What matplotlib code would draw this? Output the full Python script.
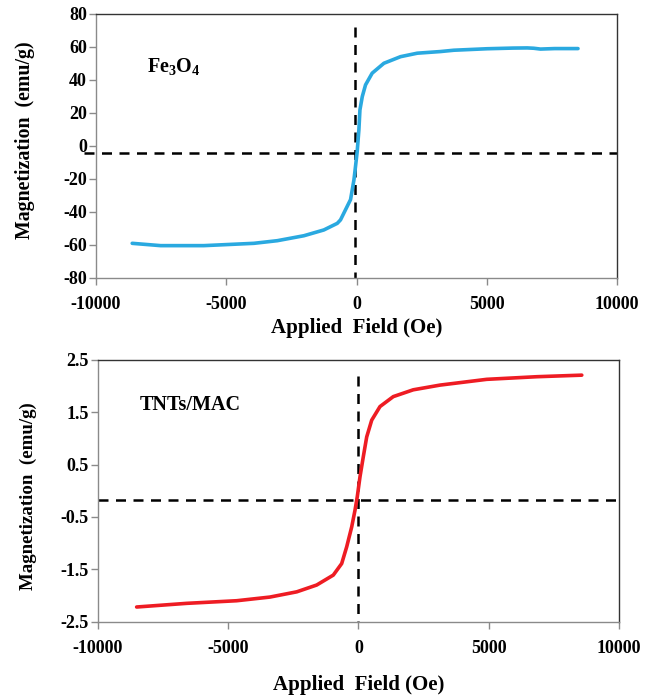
import matplotlib
matplotlib.use("Agg")
import matplotlib.pyplot as plt

plt.rcParams['font.family'] = ['Liberation Serif', 'DejaVu Serif']
plt.rcParams['font.weight'] = 'bold'
plt.rcParams['mathtext.fontset'] = 'custom'
plt.rcParams['mathtext.rm'] = 'Liberation Serif:bold'
plt.rcParams['mathtext.it'] = 'Liberation Serif:bold'
plt.rcParams['mathtext.bf'] = 'Liberation Serif:bold'
plt.rcParams['mathtext.default'] = 'rm'

# Fe3O4 magnetization curve (field in Oe, magnetization in emu/g)
fe_field = [-8610, -7520, -5860, -3940, -3040, -2020, -1255, -740, -615, -490, -230,
            -100, -40, 25, 90, 130, 220, 345, 600, 1050, 1690, 2330, 3220, 3735,
            5015, 6000, 6550, 6800, 7060, 7600, 8500]
fe_mag = [-59.0, -60.4, -60.4, -59.0, -57.4, -54.4, -50.9, -46.9, -44.8, -40.8, -32.5,
          -20.6, -12.5, -3.4, 9.7, 21.8, 29.9, 37.0, 44.1, 50.1, 54.1, 56.2, 57.2, 58.0,
          58.9, 59.3, 59.4, 59.2, 58.7, 59.0, 59.0]

# TNTs/MAC magnetization curve
tn_field = [-8515, -6595, -4675, -3400, -2370, -1605, -967, -645, -453, -261, -134, -46,
            58, 184, 315, 507, 825, 1335, 2100, 3130, 4920, 6840, 8570]
tn_mag = [-2.22, -2.15, -2.10, -2.03, -1.93, -1.80, -1.61, -1.39, -1.07, -0.69, -0.37, -0.11,
          0.27, 0.65, 1.03, 1.35, 1.61, 1.80, 1.93, 2.02, 2.13, 2.18, 2.21]

x_ticks = [-10000, -5000, 0, 5000, 10000]
fe_yticks = [-80, -60, -40, -20, 0, 20, 40, 60, 80]
tn_yticks = [-2.5, -1.5, -0.5, 0.5, 1.5, 2.5]

fig = plt.figure(figsize=(6.53, 6.96), dpi=100)
ax1 = fig.add_axes([0.147, 0.6006, 0.798, 0.3794])
ax2 = fig.add_axes([0.150, 0.1068, 0.798, 0.3760])

def style(ax, xlab_y, ylab_x, ylab_y, ylab_size):
    for s in ['left', 'bottom']:
        ax.spines[s].set_color('#8a8a8a')
        ax.spines[s].set_linewidth(1.0)
    for s in ['top', 'right']:
        ax.spines[s].set_color('#333333')
        ax.spines[s].set_linewidth(1.0)
    ax.tick_params(direction='out', length=5, width=1, color='#8a8a8a', labelsize=13)
    ax.tick_params(axis='x', pad=8)
    ax.tick_params(axis='y', pad=1.5)
    for lab in ax.get_xticklabels() + ax.get_yticklabels():
        lab.set_fontweight('bold')
    ax.set_xlabel('Applied  Field (Oe)', fontsize=15, fontweight='bold')
    ax.set_ylabel('Magnetization  (emu/g)', fontsize=ylab_size, fontweight='bold')
    ax.xaxis.set_label_coords(0.5, xlab_y)
    ax.yaxis.set_label_coords(ylab_x, ylab_y)

dash = (0, (4, 3))

# Top panel
ax1.plot(fe_field, fe_mag, color='#2aa9e0', lw=2.6, solid_capstyle='round',
         solid_joinstyle='round', zorder=3)
ax1.plot([-10450, 10000], [-4, -4], color='black', lw=1.8, linestyle=dash, clip_on=False, zorder=2)
ax1.plot([-40, -40], [72, -80], color='black', lw=1.8, linestyle=dash, zorder=2)
ax1.set_xlim(-10000, 10000)
ax1.set_ylim(-80, 80)
ax1.set_xticks(x_ticks)
ax1.set_yticks(fe_yticks)
ax1.set_xticklabels([str(v) for v in x_ticks])
ax1.set_yticklabels([str(v) for v in fe_yticks])
style(ax1, -0.152, -0.118, 0.52, 14.3)
ax1.text(-8050, 48, r'Fe$_3$O$_4$', fontsize=14.5, fontweight='bold', va='center')

# Bottom panel
ax2.plot(tn_field, tn_mag, color='#ee1c23', lw=2.6, solid_capstyle='round',
         solid_joinstyle='round', zorder=3)
ax2.plot([-10000, 10000], [-0.18, -0.18], color='black', lw=1.8, linestyle=dash, clip_on=False, zorder=2)
ax2.plot([-30, -30], [2.2, -2.5], color='black', lw=1.8, linestyle=dash, zorder=2)
ax2.set_xlim(-10000, 10000)
ax2.set_ylim(-2.5, 2.5)
ax2.set_xticks(x_ticks)
ax2.set_yticks(tn_yticks)
ax2.set_xticklabels([str(v) for v in x_ticks])
ax2.set_yticklabels([str(v) for v in tn_yticks])
style(ax2, -0.204, -0.117, 0.478, 13.6)
ax2.text(-8400, 1.64, 'TNTs/MAC', fontsize=14.5, fontweight='bold', va='center')

fig.savefig('out.png', dpi=100)
